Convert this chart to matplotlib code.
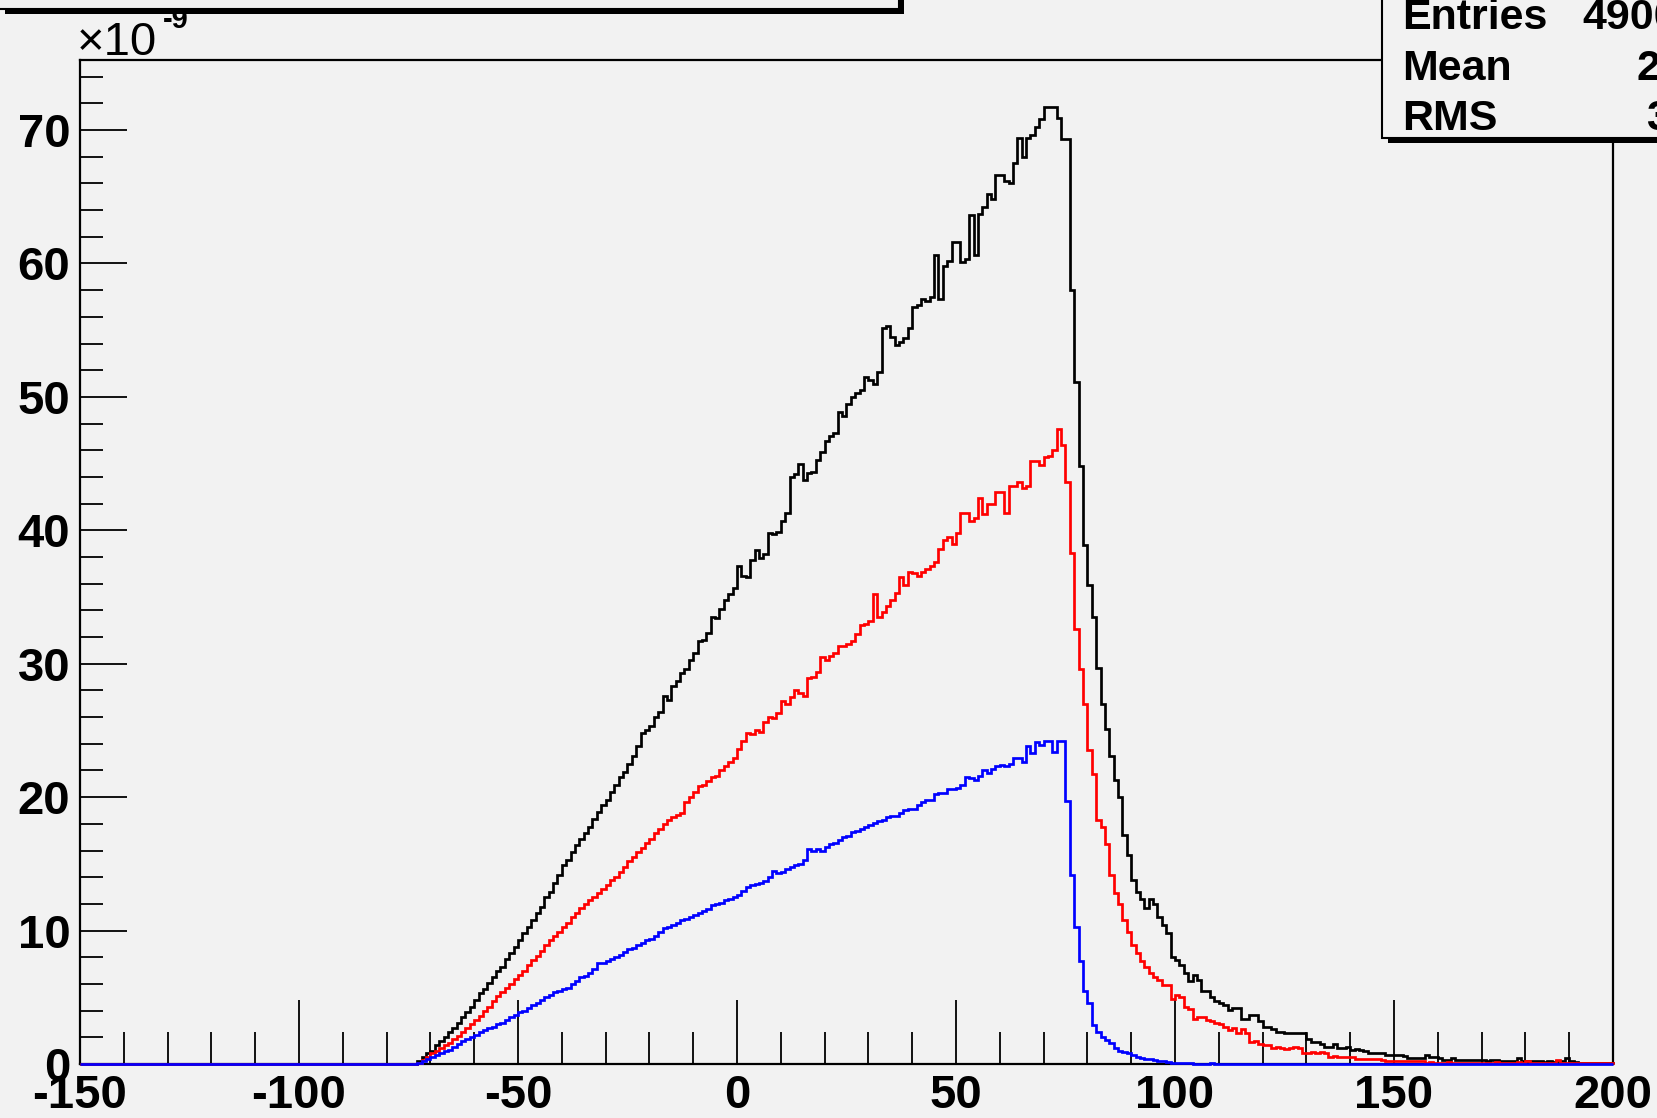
import numpy as np
import matplotlib
matplotlib.use("Agg")
import matplotlib.pyplot as plt
from matplotlib.patches import Rectangle

plt.rcParams['axes.unicode_minus'] = False
plt.rcParams['font.family'] = ['Liberation Sans', 'DejaVu Sans']

# ---------------- data (values in units of 1e-9), 1-unit bins ----------------
x_min, x_max = -150, 200
first_bin = -73          # left edge of first listed bin

black_vals = [
    0.2, 0.5, 0.8, 1.0, 1.4, 1.7, 2.0, 2.4, 2.7, 3.1,
    3.5, 3.9, 4.3, 4.8, 5.3, 5.6, 6.1, 6.5, 7.0, 7.3,
    7.9, 8.3, 8.8, 9.3, 9.8, 10.3, 10.8, 11.3, 11.8, 12.5,
    12.9, 13.6, 14.2, 14.9, 15.3, 15.9, 16.4, 16.9, 17.3, 17.8,
    18.4, 18.9, 19.4, 19.8, 20.4, 20.9, 21.5, 21.9, 22.5, 23.1,
    23.8, 24.8, 25.0, 25.3, 26.0, 26.4, 27.6, 27.3, 28.3, 28.7,
    29.3, 29.6, 30.3, 30.8, 31.7, 31.8, 32.3, 33.5, 33.4, 34.1,
    34.8, 35.2, 35.7, 37.3, 36.6, 36.5, 37.8, 38.5, 37.9, 38.2,
    39.8, 39.7, 39.9, 40.7, 41.3, 44.0, 44.2, 45.0, 43.8, 44.3,
    44.4, 45.3, 45.9, 46.7, 47.1, 47.3, 48.9, 48.6, 49.5, 50.0,
    50.3, 50.5, 51.5, 51.3, 51.0, 51.9, 55.2, 55.3, 54.5, 53.9,
    54.1, 54.4, 55.2, 56.7, 56.9, 57.3, 57.2, 57.5, 60.6, 57.3,
    59.8, 60.2, 61.6, 61.6, 60.1, 60.3, 63.6, 60.6, 63.7, 64.2,
    65.2, 64.8, 66.6, 66.6, 66.2, 66.0, 67.5, 69.4, 68.0, 69.4,
    69.6, 70.2, 70.8, 71.7, 71.7, 71.7, 70.9, 69.3, 69.3, 58.0,
    51.1, 44.8, 38.9, 35.9, 33.5, 29.7, 27.0, 25.1, 23.1, 21.3,
    20.0, 17.2, 15.7, 13.8, 12.9, 12.4, 11.7, 12.4, 12.0, 11.0,
    10.4, 9.8, 8.0, 7.8, 7.4, 6.8, 6.2, 6.7, 6.3, 5.5,
    5.5, 5.0, 4.7, 4.6, 4.4, 4.05, 4.2, 4.2, 3.4, 3.4,
    3.7, 3.7, 3.2, 2.8, 2.8, 2.6, 2.4, 2.4, 2.35, 2.35,
    2.35, 2.35, 2.35, 1.9, 1.67, 1.67, 1.5, 1.3, 1.3, 1.5,
    1.2, 1.2, 1.3, 1.05, 1.1, 1.05, 1.0, 0.8, 0.8, 0.8,
    0.8, 0.7, 0.7, 0.7, 0.7, 0.6, 0.45, 0.45, 0.45, 0.45,
    0.7, 0.55, 0.55, 0.45, 0.3, 0.3, 0.45, 0.3, 0.3, 0.3,
    0.3, 0.28, 0.28, 0.3, 0.2, 0.3, 0.28, 0.2, 0.2, 0.2,
    0.2, 0.45, 0.2, 0.2, 0.2, 0.2, 0.2, 0.15, 0.2, 0.15,
    0.2, 0.2, 0.45, 0.2, 0.15, 0.1, 0.1, 0.1, 0.1, 0.1,
    0.1, 0.1, 0.1,
]

red_vals = [
    0.1, 0.3, 0.55, 0.8, 1.0, 1.2, 1.4, 1.6, 1.9, 2.1,
    2.4, 2.7, 3.0, 3.3, 3.6, 4.0, 4.3, 4.7, 5.1, 5.4,
    5.7, 6.0, 6.4, 6.7, 7.0, 7.4, 7.8, 8.1, 8.5, 8.9,
    9.3, 9.6, 9.9, 10.3, 10.6, 11.0, 11.3, 11.7, 12.0, 12.3,
    12.5, 12.8, 13.1, 13.4, 13.8, 14.0, 14.4, 14.8, 15.2, 15.5,
    15.9, 16.2, 16.6, 16.9, 17.3, 17.6, 18.0, 18.3, 18.5, 18.7,
    18.8, 19.6, 20.0, 20.4, 20.8, 20.9, 21.2, 21.5, 21.6, 22.0,
    22.3, 22.6, 22.9, 23.6, 24.2, 24.8, 24.7, 25.0, 24.9, 25.6,
    26.0, 25.9, 26.3, 27.2, 27.0, 27.5, 28.0, 27.8, 27.6, 28.9,
    29.0, 29.4, 30.5, 30.3, 30.6, 30.8, 31.3, 31.3, 31.5, 31.7,
    32.2, 32.9, 33.0, 33.2, 35.2, 33.5, 33.9, 34.3, 34.8, 35.3,
    36.5, 35.9, 36.9, 36.8, 36.6, 36.9, 37.1, 37.3, 37.6, 38.6,
    39.3, 39.5, 39.0, 39.8, 41.3, 41.3, 40.7, 40.9, 42.4, 41.2,
    42.0, 42.0, 42.9, 42.9, 41.3, 43.3, 43.3, 43.6, 43.2, 43.3,
    45.2, 45.2, 44.9, 45.5, 45.6, 46.0, 47.6, 46.4, 43.6, 38.3,
    32.6, 29.6, 27.0, 23.5, 21.7, 18.3, 17.8, 16.5, 14.2, 12.8,
    12.0, 10.8, 9.9, 8.9, 8.3, 7.7, 7.3, 6.8, 6.5, 6.3,
    5.9, 5.9, 4.9, 5.2, 5.0, 4.3, 4.1, 3.4, 3.5, 3.55,
    3.3, 3.2, 3.05, 3.0, 2.8, 2.55, 2.7, 2.3, 2.6, 2.3,
    1.67, 1.7, 1.5, 1.4, 1.4, 1.2, 1.3, 1.2, 1.1, 1.2,
    1.3, 1.2, 0.8, 0.8, 0.9, 0.85, 0.9, 0.8, 0.55, 0.6,
    0.55, 0.55, 0.55, 0.55, 0.4, 0.35, 0.35, 0.35, 0.35, 0.35,
    0.3, 0.2, 0.2, 0.2, 0.2, 0.2, 0.2, 0.2, 0.2, 0.2,
    0.1, 0.15, 0.1, 0.1, 0.1, 0.15, 0.1, 0.1, 0.1, 0.1,
    0.1, 0.1, 0.1, 0.1, 0.1, 0.1, 0.15, 0.1, 0.1, 0.1,
    0.1, 0.15, 0.1, 0.2, 0.1, 0.1, 0.1, 0.1, 0.1, 0.1,
    0.3, 0.1, 0.1, 0.1, 0.1, 0.1, 0.05, 0.05, 0.05, 0.05,
    0.05, 0.05, 0.05,
]

blue_vals = [
    0.1, 0.25, 0.4, 0.55, 0.7, 0.85, 0.95, 1.05, 1.3, 1.5,
    1.7, 1.9, 2.05, 2.2, 2.4, 2.55, 2.7, 2.8, 3.0, 3.1,
    3.3, 3.5, 3.7, 3.9, 4.0, 4.2, 4.4, 4.6, 4.8, 5.0,
    5.2, 5.4, 5.5, 5.6, 5.7, 6.0, 6.2, 6.5, 6.6, 6.8,
    7.1, 7.6, 7.6, 7.7, 7.9, 8.0, 8.2, 8.4, 8.6, 8.7,
    8.9, 9.1, 9.3, 9.4, 9.6, 9.9, 10.2, 10.3, 10.4, 10.6,
    10.8, 10.9, 11.0, 11.2, 11.3, 11.5, 11.6, 11.9, 12.0, 12.1,
    12.3, 12.4, 12.5, 12.7, 13.0, 13.3, 13.4, 13.5, 13.6, 13.7,
    14.0, 14.5, 14.3, 14.4, 14.6, 14.8, 14.9, 15.0, 15.3, 16.1,
    16.0, 16.1, 16.0, 16.3, 16.5, 16.6, 16.8, 17.0, 17.1, 17.4,
    17.5, 17.6, 17.8, 17.9, 18.1, 18.2, 18.3, 18.5, 18.6, 18.6,
    18.8, 19.0, 19.1, 19.1, 19.4, 19.6, 19.8, 19.8, 20.2, 20.3,
    20.3, 20.6, 20.6, 20.7, 20.9, 21.5, 21.4, 21.3, 21.6, 22.0,
    21.8, 22.1, 22.3, 22.4, 22.3, 22.5, 22.9, 22.9, 22.6, 23.8,
    23.3, 24.1, 23.9, 24.2, 24.2, 23.4, 24.2, 24.2, 19.7, 14.2,
    10.3, 7.7, 5.5, 4.55, 2.9, 2.4, 2.0, 1.8, 1.6, 1.2,
    1.0, 0.9, 0.8, 0.65, 0.55, 0.45, 0.4, 0.35, 0.3, 0.25,
    0.2, 0.15, 0.1, 0.1, 0.05, 0.05, 0.05, 0.0, 0.0, 0.0,
    0.0, 0.1,
]

x_major = [-150, -100, -50, 0, 50, 100, 150, 200]
x_labels = ['-150', '-100', '-50', '0', '50', '100', '150', '200']
y_major = [0, 10, 20, 30, 40, 50, 60, 70]
y_labels = ['0', '10', '20', '30', '40', '50', '60', '70']

stat_names = ['Entries', 'Mean', 'RMS']
stat_values = ['4900', '2', '3']

# ---------------- build histograms ----------------
edges = np.arange(x_min, x_max + 1, 1)


def full(vals):
    arr = np.zeros(len(edges) - 1)
    i0 = first_bin - x_min
    arr[i0:i0 + len(vals)] = vals
    return arr


W, H = 1658, 1118
BG = '#f2f2f2'
fig = plt.figure(figsize=(W / 100, H / 100), dpi=100, facecolor=BG)


def fx(px):
    return px / W


def fy(py):
    return 1 - py / H


ax = fig.add_axes([fx(80), fy(1064), (1613 - 80) / W, (1064 - 60) / H])
ax.set_facecolor(BG)

for vals, col in [(black_vals, 'black'), (red_vals, '#ff0000'), (blue_vals, '#0000ff')]:
    ax.stairs(full(vals), edges, color=col, lw=1.95, clip_on=False, zorder=3)

ax.set_xlim(x_min, x_max)
ax.set_ylim(0, 75.25)

for s in ax.spines.values():
    s.set_linewidth(1.6)
    s.set_color('black')

ax.set_xticks(x_major)
ax.set_xticklabels(x_labels)
ax.set_xticks(np.arange(-140, 200, 10), minor=True)
ax.set_yticks(y_major)
ax.set_yticklabels(y_labels)
ax.set_yticks(np.arange(2, 76, 2), minor=True)

ax.tick_params(axis='x', which='major', direction='in', length=46, width=1.3, pad=7,
               labelsize=34)
ax.tick_params(axis='x', which='minor', direction='in', length=23, width=1.3)
ax.tick_params(axis='y', which='major', direction='in', length=34, width=1.3, pad=7,
               labelsize=34)
ax.tick_params(axis='y', which='minor', direction='in', length=16.5, width=1.3)
for lab in ax.get_xticklabels() + ax.get_yticklabels():
    lab.set_fontweight('bold')

# exponent label
fig.text(fx(77), fy(55), '\u00d710', fontsize=34, va='baseline', ha='left',
         family=['Liberation Sans', 'DejaVu Sans'])
fig.text(fx(163), fy(28), '-9', fontsize=21, va='baseline', ha='left',
         fontweight='bold')

# title pave (mostly outside the picture)
fig.add_artist(Rectangle((fx(5), fy(14)), fx(904) - fx(5), fy(-20) - fy(14),
                         transform=fig.transFigure, facecolor='black',
                         edgecolor='none', zorder=5))
fig.add_artist(Rectangle((fx(-5), fy(9)), fx(899) - fx(-5), fy(-20) - fy(9),
                         transform=fig.transFigure, facecolor=BG,
                         edgecolor='black', lw=1.5, zorder=6))

# stats pave
fig.add_artist(Rectangle((fx(1388), fy(143)), fx(1720) - fx(1388), fy(-20) - fy(143),
                         transform=fig.transFigure, facecolor='black',
                         edgecolor='none', zorder=5))
fig.add_artist(Rectangle((fx(1382), fy(138)), fx(1720) - fx(1382), fy(-20) - fy(138),
                         transform=fig.transFigure, facecolor=BG,
                         edgecolor='black', lw=1.5, zorder=6))
baselines = [29, 80, 130]
value_x = [1582, 1637, 1646]
for name, val, yb, vx in zip(stat_names, stat_values, baselines, value_x):
    fig.text(fx(1402), fy(yb), name, fontsize=31, fontweight='bold',
             va='baseline', ha='left', zorder=7)
    fig.text(fx(vx), fy(yb), val, fontsize=31, fontweight='bold',
             va='baseline', ha='left', zorder=7)

fig.savefig('out.png', dpi=100, facecolor=BG)
